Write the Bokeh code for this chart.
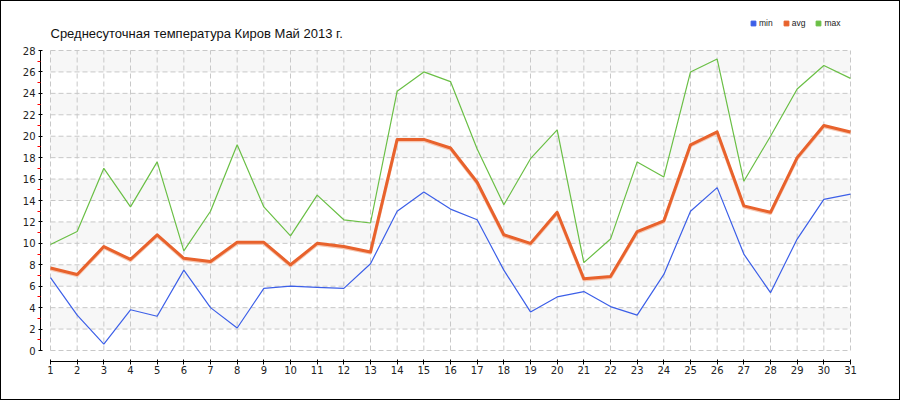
from bokeh.plotting import figure
from bokeh.models import Range1d, FixedTicker, Legend, LegendItem, ColumnDataSource, Label
from bokeh.embed import file_html
from bokeh.resources import INLINE

# ---- data ----
days = list(range(1, 32))
t_min = [6.8, 3.3, 0.6, 3.8, 3.2, 7.5, 4.0, 2.1, 5.8, 6.0, 5.9, 5.8, 8.1, 13.0, 14.8, 13.2,
         12.2, 7.5, 3.6, 5.0, 5.5, 4.1, 3.3, 7.1, 13.0, 15.2, 9.0, 5.4, 10.4, 14.1, 14.6]
t_avg = [7.7, 7.1, 9.7, 8.5, 10.8, 8.6, 8.3, 10.1, 10.1, 8.0, 10.0, 9.7, 9.2, 19.7, 19.7, 18.9,
         15.7, 10.8, 10.0, 12.9, 6.7, 6.9, 11.1, 12.1, 19.2, 20.4, 13.5, 12.9, 18.0, 21.0, 20.4]
t_max = [9.9, 11.1, 17.0, 13.4, 17.6, 9.3, 13.0, 19.2, 13.4, 10.7, 14.5, 12.2, 11.9, 24.2, 26.0, 25.1,
         18.8, 13.6, 17.9, 20.6, 8.2, 10.4, 17.6, 16.2, 26.0, 27.2, 15.8, 20.0, 24.4, 26.6, 25.4]
y_ticks = list(range(0, 29, 2))
y_minor = list(range(1, 28, 2))
series_names = ["min", "avg", "max"]
series_colors = ["#3c5fe8", "#e8622c", "#6abf45"]
title_text = "Среднесуточная температура Киров  Май 2013 г."

C_MIN, C_AVG, C_MAX = series_colors

# pixel geometry of the frame (styles only)
PX_PER_DAY = 800 / 30
PX_PER_DEG = 300 / 28

p = figure(width=900, height=400, output_backend="svg", toolbar_location=None,
           x_range=Range1d(days[0] - 10 / PX_PER_DAY, days[-1] + 1 / PX_PER_DAY),
           y_range=Range1d(y_ticks[0] - 11 / PX_PER_DEG, y_ticks[-1] + 49 / PX_PER_DEG),
           min_border_left=39, min_border_right=50, min_border_top=0, min_border_bottom=40)
p.styles = {"border": "1px solid black"}
p.outline_line_color = None
p.xgrid.visible = False
p.ygrid.visible = False

# title as a label inside the (extended) frame
p.add_layout(Label(x=10, y=328, x_units="screen", y_units="screen", text=title_text,
                   text_font="Liberation Sans", text_font_size="13px", text_color="#111111",
                   text_baseline="alphabetic", text_align="left"))

# alternating bands
x0, x1 = days[0], days[-1]
band_bottom = [b for b in y_ticks[1::2] if b + 2 <= y_ticks[-1]]
band_top = [b + 2 for b in band_bottom]
p.quad(left=x0, right=x1, bottom=band_bottom, top=band_top, fill_color="#f7f7f7", line_color=None)

# grid (dashed)
p.segment(x0=[x0] * len(y_ticks), x1=[x1] * len(y_ticks), y0=y_ticks, y1=y_ticks,
          line_color="#c8c8c8", line_width=1, line_dash="5 3")
p.segment(x0=days, x1=days, y0=[y_ticks[0]] * len(days), y1=[y_ticks[-1]] * len(days),
          line_color="#c8c8c8", line_width=1, line_dash="5 3")

src = ColumnDataSource(dict(day=days, tmin=t_min, tavg=t_avg, tmax=t_max,
                            tavg_sh=[v - 1.2 / PX_PER_DEG for v in t_avg]))
p.line("day", "tmin", source=src, line_color=C_MIN, line_width=1.2)
p.line("day", "tavg_sh", source=src, line_color="#f6c7b2", line_width=3)
p.line("day", "tavg", source=src, line_color=C_AVG, line_width=3, line_join="round")
p.line("day", "tmax", source=src, line_color=C_MAX, line_width=1.2)

# legend proxies (square swatches, not drawn on the plot: NaN position)
nan = float("nan")
proxies = [p.scatter(x=[nan], y=[nan], marker="square", size=5, color=c) for c in series_colors]
legend = Legend(items=[LegendItem(label=n, renderers=[r], index=0) for n, r in zip(series_names, proxies)],
                orientation="horizontal", location=(707, 332), padding=0, margin=0,
                spacing=7, glyph_width=12, glyph_height=12, label_standoff=0,
                label_height=12, label_width=10,
                label_text_font="Liberation Sans", label_text_font_size="8.5px", label_text_color="#222222",
                background_fill_alpha=0, border_line_color=None)
p.add_layout(legend, "center")

# axes
p.xaxis.ticker = FixedTicker(ticks=days)
p.xaxis.bounds = (x0, x1)
p.xaxis.major_tick_in = 2
p.xaxis.major_tick_out = 3
p.xaxis.minor_tick_line_color = None
p.xaxis.major_label_standoff = 1
p.xaxis.major_label_text_font = "DejaVu Sans"
p.xaxis.major_label_text_font_size = "10px"
p.xaxis.major_label_text_color = "#222222"
p.xaxis.axis_line_color = "black"

p.yaxis.ticker = FixedTicker(ticks=y_ticks, minor_ticks=y_minor)
p.yaxis.bounds = (y_ticks[0], y_ticks[-1])
p.yaxis.major_tick_in = 2
p.yaxis.major_tick_out = 2
p.yaxis.minor_tick_in = 0
p.yaxis.minor_tick_out = 3
p.yaxis.minor_tick_line_color = "red"
p.yaxis.major_label_standoff = 2
p.yaxis.major_label_text_font = "DejaVu Sans"
p.yaxis.major_label_text_font_size = "10px"
p.yaxis.major_label_text_color = "#222222"

open("out.html", "w").write(file_html(p, INLINE))
